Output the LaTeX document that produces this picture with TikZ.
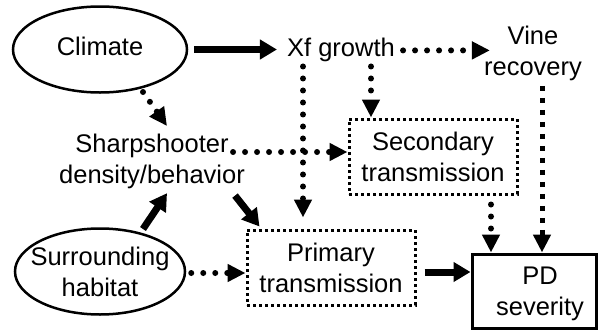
\documentclass[tikz,border=0pt]{standalone}
\usepackage{fontspec}
\setmainfont{Liberation Sans}
\usetikzlibrary{arrows.meta,shapes.geometric,calc}
\begin{document}
\begin{tikzpicture}[x=1pt,y=-1pt,
  every node/.style={font=\fontsize{25.5}{31}\selectfont, align=center, inner sep=0pt},
  oval/.style={ellipse, draw, line width=2.5pt, minimum width=#1, minimum height=86pt},
  dbox/.style={draw, line width=3pt, dash pattern=on 3pt off 3pt, minimum width=168pt, minimum height=75pt},
  sbox/.style={draw, line width=3pt, minimum width=124pt, minimum height=74pt},
  thickarr/.style={line width=7pt, -{Triangle[length=17pt,width=19pt]}},
  dotarr/.style={line width=6pt, line cap=round, dash pattern=on 0pt off 12pt, -{Triangle[length=18pt,width=17pt]}},
  sqarr/.style={line width=5pt, dash pattern=on 5pt off 7pt, -{Triangle[length=18pt,width=17pt]}},
]
\useasboundingbox (0,0) rectangle (598,330);

\node[oval=174pt] (clim) at (100,49.5) {};
\node (climt) at (100,46) {Climate};
\node (xf) at (341,50.4) {Xf growth};
\node (vine) at (533,53.4) {Vine\\recovery};
\node (ss) at (152,161) {Sharpshooter\\density/behavior};
\node[dbox] (sec) at (433,156.5) {Secondary\\transmission};
\node[dbox] (prim) at (331,267.5) {Primary\\transmission};
\node[oval=170pt] (surr) at (100,271.5) {};
\node (surrt) at (100,271.7) {Surrounding\\habitat};
\node[sbox] (pd) at (534,291) {};
\node (pdt) at (540,293.5) {PD\\severity};

\draw[thickarr] ([xshift=6]clim.east) -- ([xshift=-10]xf.west |- clim.east);
\draw[dotarr] ([xshift=8]xf.east) -- ([xshift=6]vine.west |- xf.east);
\draw[sqarr] ([xshift=9,yshift=-5]vine.south) -- ([xshift=9]vine.south |- pd.north);
\draw[dotarr] ([xshift=30,yshift=-4]xf.south) -- ([xshift=30]xf.south |- sec.north);
\draw[dotarr, shorten >=11pt] ([xshift=-38,yshift=-4]xf.south) -- ([xshift=-38]xf.south |- prim.north);
\draw[dotarr] ($(clim.center)+(43,42.5)$) -- ([xshift=15,yshift=7.4]ss.north);
\draw[dotarr] ([xshift=-12,yshift=9]ss.east) -- ([yshift=4.5]sec.west);
\draw[thickarr] ($(surr.center)+(43,-42.5)$) -- ([xshift=15,yshift=-4.6]ss.south);
\draw[thickarr] ([xshift=-10,yshift=-7]ss.south east) -- ([xshift=14,yshift=2]prim.north west);
\draw[dotarr] ([xshift=5,yshift=-1.5]surr.east) -- ([yshift=-1.5]surr.east -| prim.west);
\draw[thickarr] ([xshift=8,yshift=-4.5]prim.east) -- ([yshift=-4.5]prim.east -| pd.west);
\draw[dotarr] ([xshift=58,yshift=-9]sec.south) -- ([xshift=58]sec.south |- pd.north);
\end{tikzpicture}
\end{document}
